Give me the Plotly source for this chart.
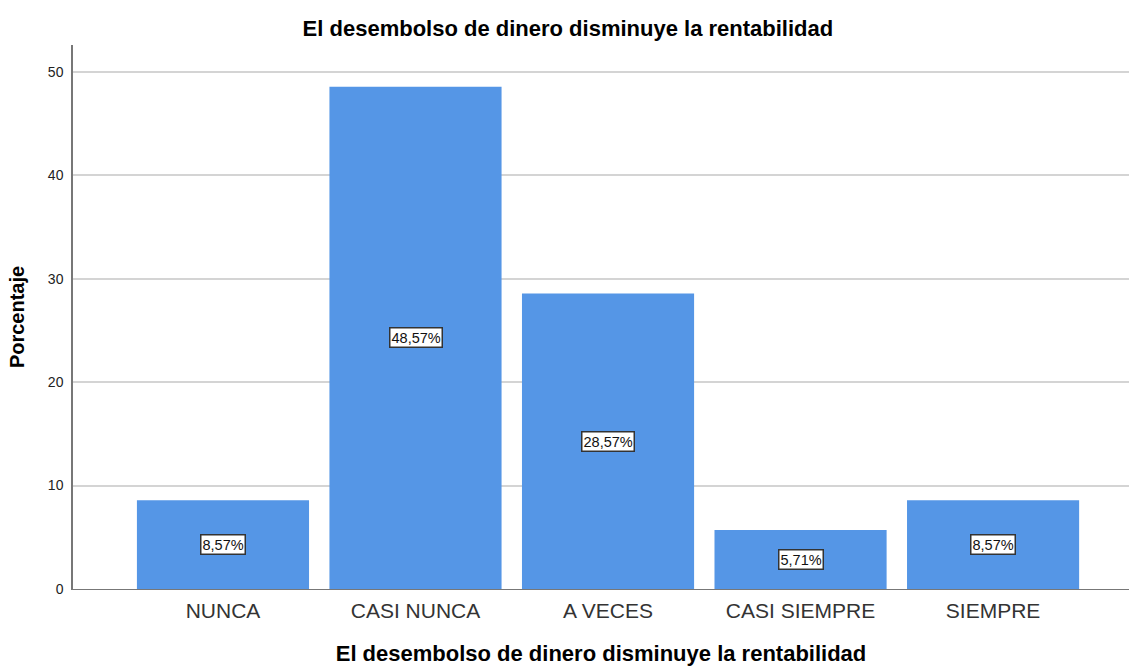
import plotly.graph_objects as go

categories = ["NUNCA", "CASI NUNCA", "A VECES", "CASI SIEMPRE", "SIEMPRE"]
percentages = [8.57, 48.57, 28.57, 5.71, 8.57]
labels = ["8,57%", "48,57%", "28,57%", "5,71%", "8,57%"]
y_ticks = [0, 10, 20, 30, 40, 50]

title_text = "El desembolso de dinero disminuye la rentabilidad"
font_family = "Liberation Sans, Arial, sans-serif"

fig = go.Figure()
fig.add_trace(go.Bar(
    x=list(range(len(categories))),
    y=percentages,
    marker=dict(color="#5596E6", line=dict(width=0)),
    width=0.894,
    hoverinfo="skip",
))

for i, (v, lab) in enumerate(zip(percentages, labels)):
    fig.add_annotation(
        x=i, y=v / 2, xref="x", yref="y", text=lab, showarrow=False,
        font=dict(family=font_family, size=14.5, color="#111"),
        bgcolor="white", bordercolor="#333", borderwidth=1.5, borderpad=1,
    )

fig.update_layout(
    width=1129, height=666,
    margin=dict(l=73, r=0, t=45, b=77),
    paper_bgcolor="white", plot_bgcolor="white",
    showlegend=False,
    font=dict(family=font_family, color="#222"),
    title=dict(text="<b>" + title_text + "</b>", x=0.503, xanchor="center",
               y=1 - 28 / 666, yanchor="middle",
               font=dict(size=22, color="#000", family=font_family)),
    xaxis=dict(
        range=[-0.779, 4.706],
        tickmode="array", tickvals=list(range(len(categories))), ticktext=categories,
        showgrid=False, zeroline=False,
        showline=True, linecolor="#777", linewidth=1,
        ticks="", ticklabelstandoff=3, tickfont=dict(size=21, color="#333"),
        title=dict(text="<b>" + title_text + "</b>", font=dict(size=22, color="#000"), standoff=24),
    ),
    yaxis=dict(
        range=[0, 52.6],
        tickmode="array", tickvals=y_ticks,
        showgrid=True, gridcolor="#d4d4d4", gridwidth=1.5,
        zeroline=False,
        showline=True, linecolor="#777", linewidth=1.5,
        ticks="", ticklen=0, ticklabelstandoff=5, tickfont=dict(size=14, color="#222"),
        title=dict(text="<b>Porcentaje</b>", font=dict(size=20, color="#000"), standoff=18),
    ),
)

fig.write_html("out.html")
